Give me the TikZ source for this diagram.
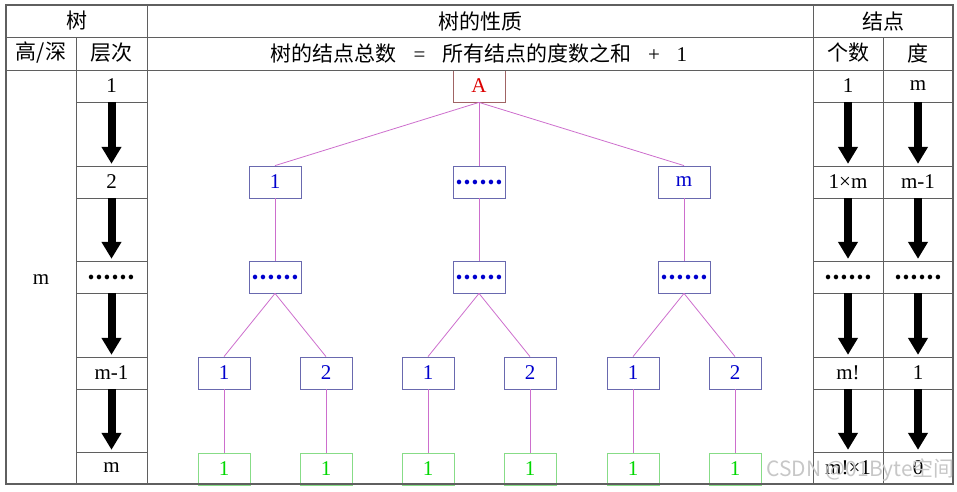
\documentclass[tikz,border=0pt]{standalone}
\usepackage{fontspec}
\setmainfont{Liberation Serif}
\newfontfamily\cjk{Noto Sans CJK SC}
\usetikzlibrary{arrows.meta}

\definecolor{gridcol}{RGB}{95,95,95}
\definecolor{linkcol}{RGB}{205,110,205}
\definecolor{rootcol}{RGB}{160,100,100}
\definecolor{roottext}{RGB}{220,0,0}
\definecolor{boxcol}{RGB}{105,105,175}
\definecolor{boxtext}{RGB}{0,0,205}
\definecolor{leafcol}{RGB}{135,220,135}
\definecolor{leaftext}{RGB}{0,215,0}

\newcommand{\dotrow}{{\cjk\bfseries ……}}

\begin{document}
\begin{tikzpicture}[x=1pt, y=-1pt,
  every node/.style={font=\fontsize{21}{21}\selectfont, inner sep=0pt},
  cell/.style={minimum width=70pt, minimum height=32pt},
  tbox/.style={draw=boxcol, text=boxtext, line width=0.8pt, minimum width=52pt, minimum height=32pt},
  rootbox/.style={tbox, draw=rootcol, text=roottext},
  leafbox/.style={tbox, draw=leafcol, text=leaftext},
  link/.style={draw=linkcol, line width=0.8pt},
  bigarrow/.style={line width=8pt, -{Triangle[width=19pt,length=17pt]}, shorten >=2pt}]
  \useasboundingbox (0,0) rectangle (957,491);

  % Tree
  \node[rootbox] (root) at (479,86) {A};
  \node[tbox] (n1) at (275,182) {1};
  \node[tbox] (nd) at (479,182) {\dotrow};
  \node[tbox] (nm) at (684,182) {m};
  \node[tbox] (d1) at (275,277) {\dotrow};
  \node[tbox] (d2) at (479,277) {\dotrow};
  \node[tbox] (d3) at (684,277) {\dotrow};
  \node[tbox] (c11) at (224,373) {1};
  \node[tbox] (c12) at (326,373) {2};
  \node[tbox] (c21) at (428,373) {1};
  \node[tbox] (c22) at (530,373) {2};
  \node[tbox] (c31) at (633,373) {1};
  \node[tbox] (c32) at (735,373) {2};
  \node[leafbox] (f11) at (224,469) {1};
  \node[leafbox] (f12) at (326,469) {1};
  \node[leafbox] (f21) at (428,469) {1};
  \node[leafbox] (f22) at (530,469) {1};
  \node[leafbox] (f31) at (633,469) {1};
  \node[leafbox] (f32) at (735,469) {1};

  % Links
  \draw[link] (root.south) -- (n1.north);
  \draw[link] (root.south) -- (nd.north);
  \draw[link] (root.south) -- (nm.north);
  \draw[link] (n1) -- (d1);
  \draw[link] (nd) -- (d2);
  \draw[link] (nm) -- (d3);
  \draw[link] (d1.south) -- (c11.north);
  \draw[link] (d1.south) -- (c12.north);
  \draw[link] (d2.south) -- (c21.north);
  \draw[link] (d2.south) -- (c22.north);
  \draw[link] (d3.south) -- (c31.north);
  \draw[link] (d3.south) -- (c32.north);
  \draw[link] (c11) -- (f11);
  \draw[link] (c12) -- (f12);
  \draw[link] (c21) -- (f21);
  \draw[link] (c22) -- (f22);
  \draw[link] (c31) -- (f31);
  \draw[link] (c32) -- (f32);

  % Table
  \draw[gridcol, line width=1.2pt] (6,5) rectangle (953,484);
  \draw[gridcol] (6,37) -- (953,37);
  \draw[gridcol] (6,70) -- (953,70);
  \draw[gridcol] (147,5) -- (147,484);
  \draw[gridcol] (813,5) -- (813,484);
  \draw[gridcol] (76,37) -- (76,484);
  \draw[gridcol] (883,37) -- (883,484);
  \foreach \y in {102,166,198,261,293,357,389,452} {
    \draw[gridcol] (76,\y) -- (147,\y);
    \draw[gridcol] (813,\y) -- (953,\y);
  }

  % Headers
  \node (hTree) at (76.5,21) {\cjk 树};
  \node (hProp) at (480,21) {\cjk 树的性质};
  \node (hNode) at (883,21) {\cjk 结点};
  \node (hDepth) at (41,53) {\cjk 高/深};
  \node (hLevel) at (111.5,53) {\cjk 层次};
  \node (hFormula) at (479,53) {{\cjk 树的结点总数}\hspace{0.8em}=\hspace{0.8em}{\cjk 所有结点的度数之和}\hspace{0.8em}+\hspace{0.8em}1};
  \node (hCount) at (848,53) {\cjk 个数};
  \node (hDeg) at (918,53) {\cjk 度};
  \node (depth) at (41,280) {m};

  % Level column
  \node[cell] (lv1) at (111.5,86) {1};
  \node[cell] (lv2) at (111.5,182) {2};
  \node[cell] (lv3) at (111.5,277) {\dotrow};
  \node[cell] (lv4) at (111.5,373) {m-1};
  \node[cell] (lv5) at (111.5,468) {m};

  % Count column
  \node[cell] (ct1) at (848,86) {1};
  \node[cell] (ct2) at (848,182) {1×m};
  \node[cell] (ct3) at (848,277) {\dotrow};
  \node[cell] (ct4) at (848,373) {m!};
  \node[cell] (ct5) at (848,468) {m!×1};

  % Degree column
  \node[cell] (dg1) at (918,86) {m};
  \node[cell] (dg2) at (918,182) {m-1};
  \node[cell] (dg3) at (918,277) {\dotrow};
  \node[cell] (dg4) at (918,373) {1};
  \node[cell] (dg5) at (918,468) {0};

  % Arrows
  \draw[bigarrow] (lv1.south) -- (lv2.north);
  \draw[bigarrow] (lv2.south) -- (lv3.north);
  \draw[bigarrow] (lv3.south) -- (lv4.north);
  \draw[bigarrow] (lv4.south) -- (lv5.north);
  \draw[bigarrow] (ct1.south) -- (ct2.north);
  \draw[bigarrow] (ct2.south) -- (ct3.north);
  \draw[bigarrow] (ct3.south) -- (ct4.north);
  \draw[bigarrow] (ct4.south) -- (ct5.north);
  \draw[bigarrow] (dg1.south) -- (dg2.north);
  \draw[bigarrow] (dg2.south) -- (dg3.north);
  \draw[bigarrow] (dg3.south) -- (dg4.north);
  \draw[bigarrow] (dg4.south) -- (dg5.north);

  % Watermark
  \node[text=black!22, anchor=east] (mark) at (955,470) {\cjk CSDN @01Byte空间};
\end{tikzpicture}
\end{document}
